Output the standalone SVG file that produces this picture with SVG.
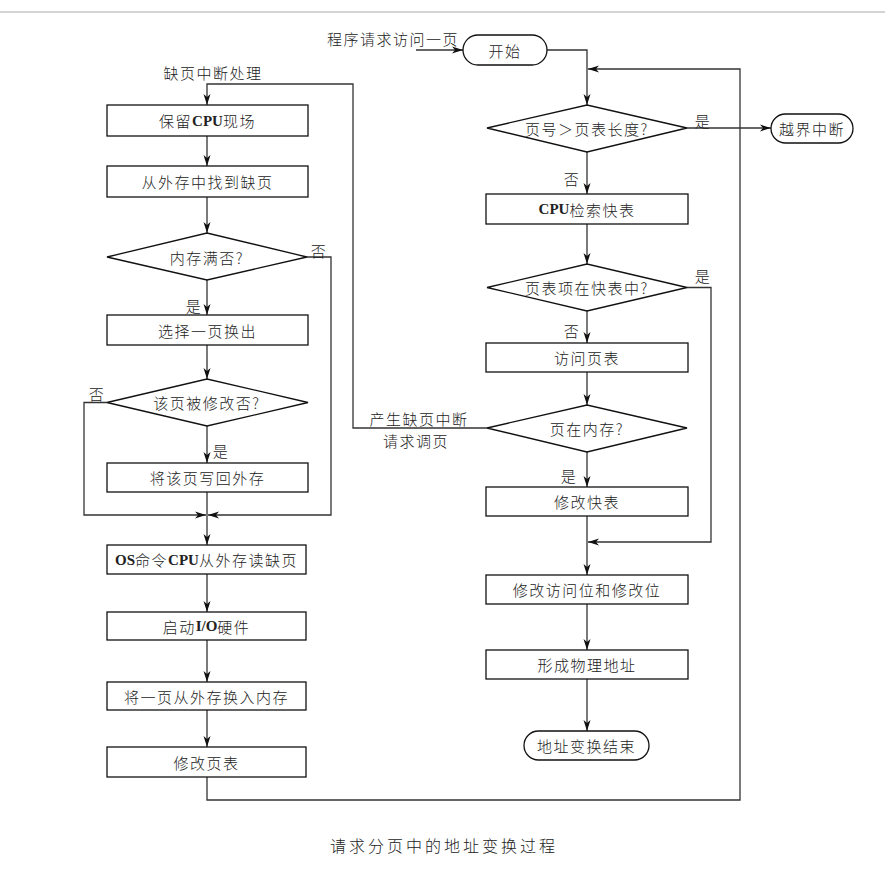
<svg xmlns="http://www.w3.org/2000/svg" width="885" height="894" viewBox="0 0 885 894">
<style>
.box{fill:#fff;stroke:#111;stroke-width:1.3}
.con{fill:none;stroke:#333;stroke-width:1.3}
.t{font-family:"Noto Sans CJK SC","Noto Sans CJK JP",sans-serif;font-size:15px;font-weight:300;fill:#222;letter-spacing:1.5px}
.c{text-anchor:middle;dominant-baseline:central}
.b{font-family:"Liberation Serif",serif;font-weight:bold;letter-spacing:0}
</style>
<defs>
<marker id="ar" markerUnits="userSpaceOnUse" markerWidth="12" markerHeight="8" refX="11" refY="4" orient="auto">
<path d="M0,0.5 L11,4 L0,7.5 L3,4 z" fill="#111"/>
</marker>
</defs>
<rect width="885" height="894" fill="#fff"/>
<line x1="0" y1="12" x2="885" y2="12" stroke="#aaa" stroke-width="1.2"/>

<g id="connectors">
<path class="con" d="M416,50 H463" marker-end="url(#ar)"/>
<path class="con" d="M547,50 H587 V105" marker-end="url(#ar)"/>
<path class="con" d="M207,777 V800 H740 V69 H588" marker-end="url(#ar)"/>
<path class="con" d="M687,128 H771" marker-end="url(#ar)"/>
<path class="con" d="M587,152 V194" marker-end="url(#ar)"/>
<path class="con" d="M587,224 V264" marker-end="url(#ar)"/>
<path class="con" d="M587,311 V343" marker-end="url(#ar)"/>
<path class="con" d="M687,287.5 H711 V542 H588" marker-end="url(#ar)"/>
<path class="con" d="M587,372 V405" marker-end="url(#ar)"/>
<path class="con" d="M587,452 V487" marker-end="url(#ar)"/>
<path class="con" d="M487,428 H353 V84 H207 V105" marker-end="url(#ar)"/>
<path class="con" d="M587,516 V575" marker-end="url(#ar)"/>
<path class="con" d="M587,604 V650" marker-end="url(#ar)"/>
<path class="con" d="M587,679 V731" marker-end="url(#ar)"/>
<path class="con" d="M207,136 V166" marker-end="url(#ar)"/>
<path class="con" d="M207,197 V233" marker-end="url(#ar)"/>
<path class="con" d="M307,257 H331 V515 H208" marker-end="url(#ar)"/>
<path class="con" d="M207,280 V315" marker-end="url(#ar)"/>
<path class="con" d="M207,345 V379" marker-end="url(#ar)"/>
<path class="con" d="M107,402.5 H84 V515 H206" marker-end="url(#ar)"/>
<path class="con" d="M207,426 V463" marker-end="url(#ar)"/>
<path class="con" d="M207,492 V545" marker-end="url(#ar)"/>
<path class="con" d="M207,574 V612" marker-end="url(#ar)"/>
<path class="con" d="M207,640 V682" marker-end="url(#ar)"/>
<path class="con" d="M207,710 V747" marker-end="url(#ar)"/>
</g>

<g id="labels">
<text class="t" x="327" y="38" dominant-baseline="central">程序请求访问一页</text>
<text class="t c" x="213" y="72">缺页中断处理</text>
<text class="t c" x="703" y="120">是</text>
<text class="t c" x="572" y="178">否</text>
<text class="t c" x="703" y="275">是</text>
<text class="t c" x="572" y="330">否</text>
<text class="t c" x="569" y="475">是</text>
<text class="t c" x="419" y="418">产生缺页中断</text>
<text class="t c" x="416" y="440">请求调页</text>
<text class="t c" x="319" y="250">否</text>
<text class="t c" x="194" y="305">是</text>
<text class="t c" x="97" y="393">否</text>
<text class="t c" x="221" y="450">是</text>
</g>

<g id="start"><rect class="box" x="463" y="35" width="84" height="30" rx="15"/><text class="t c" x="505" y="50">开始</text></g>
<g id="d1"><polygon class="box" points="487,128 587,105 687,128 587,152"/><text class="t c" x="587" y="128">页号＞页表长度?</text></g>
<g id="overflow"><rect class="box" x="771" y="114" width="82" height="29" rx="14.5"/><text class="t c" x="812" y="128.5">越界中断</text></g>
<g id="cpu-search"><rect class="box" x="486" y="194" width="202" height="30"/><text class="t c" x="587" y="209"><tspan class="b">CPU</tspan>检索快表</text></g>
<g id="d2"><polygon class="box" points="487,287.5 587,264 687,287.5 587,311"/><text class="t c" x="587" y="287.5">页表项在快表中?</text></g>
<g id="visit"><rect class="box" x="486" y="343" width="202" height="29"/><text class="t c" x="587" y="357.5">访问页表</text></g>
<g id="d3"><polygon class="box" points="487,428 587,405 687,428 587,452"/><text class="t c" x="587" y="428">页在内存?</text></g>
<g id="modify-tlb"><rect class="box" x="486" y="487" width="202" height="29"/><text class="t c" x="587" y="501.5">修改快表</text></g>
<g id="modify-bits"><rect class="box" x="486" y="575" width="202" height="29"/><text class="t c" x="587" y="589.5">修改访问位和修改位</text></g>
<g id="phys"><rect class="box" x="486" y="650" width="202" height="29"/><text class="t c" x="587" y="664.5">形成物理地址</text></g>
<g id="end"><rect class="box" x="524" y="731" width="125" height="29" rx="14.5"/><text class="t c" x="586.5" y="745.5">地址变换结束</text></g>

<g id="save"><rect class="box" x="107" y="105" width="201" height="31"/><text class="t c" x="207.5" y="120.5">保留<tspan class="b">CPU</tspan>现场</text></g>
<g id="find"><rect class="box" x="107" y="166" width="201" height="31"/><text class="t c" x="207.5" y="181.5">从外存中找到缺页</text></g>
<g id="full"><polygon class="box" points="107,257 207,233 307,257 207,280"/><text class="t c" x="207" y="257">内存满否?</text></g>
<g id="select"><rect class="box" x="107" y="315" width="201" height="30"/><text class="t c" x="207.5" y="330">选择一页换出</text></g>
<g id="modified"><polygon class="box" points="107,402.5 207,379 308,402.5 207,426"/><text class="t c" x="207" y="402.5">该页被修改否?</text></g>
<g id="writeback"><rect class="box" x="107" y="463" width="201" height="29"/><text class="t c" x="207.5" y="477.5">将该页写回外存</text></g>
<g id="os-read"><rect class="box" x="107" y="545" width="199" height="29"/><text class="t c" x="206.5" y="559.5"><tspan class="b">OS</tspan>命令<tspan class="b">CPU</tspan>从外存读缺页</text></g>
<g id="io"><rect class="box" x="107" y="612" width="199" height="28"/><text class="t c" x="206.5" y="626">启动<tspan class="b">I/O</tspan>硬件</text></g>
<g id="swapin"><rect class="box" x="107" y="682" width="199" height="28"/><text class="t c" x="206.5" y="696">将一页从外存换入内存</text></g>
<g id="update"><rect class="box" x="107" y="747" width="199" height="30"/><text class="t c" x="206.5" y="762">修改页表</text></g>

<text class="t c" x="444" y="845" style="font-size:16px;letter-spacing:3px">请求分页中的地址变换过程</text>
</svg>
